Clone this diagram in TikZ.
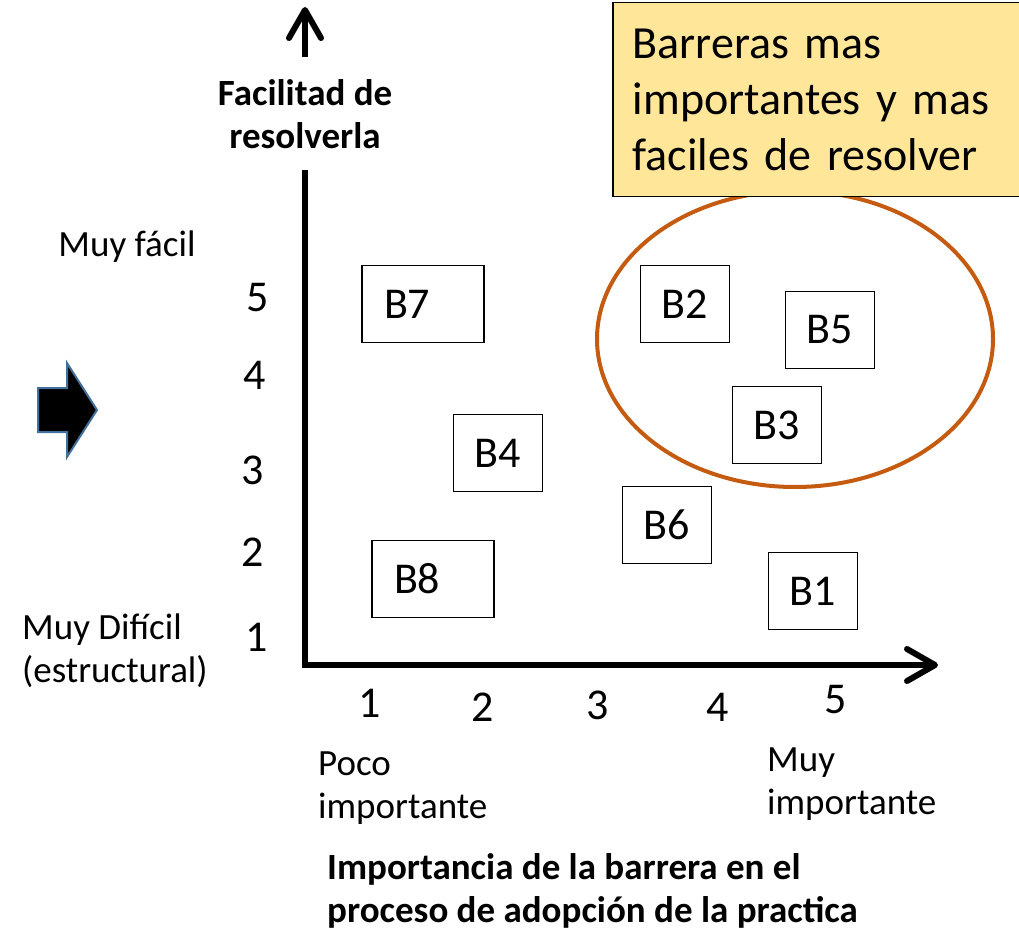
\documentclass[tikz,border=0pt]{standalone}
\usepackage{fontspec}
\setmainfont{Carlito}
\usetikzlibrary{arrows.meta}
\definecolor{notefill}{HTML}{FFE699}
\definecolor{ringcolor}{HTML}{C55A11}
\definecolor{pointeredge}{HTML}{41719C}
\tikzset{
  bignum/.style={font=\fontsize{44}{54}\selectfont, inner sep=0pt},
  smalltext/.style={font=\fontsize{37}{43}\selectfont, inner sep=0pt, align=left},
  axistitle/.style={font=\bfseries\fontsize{37}{43}\selectfont, inner sep=0pt},
  barbox/.style={draw, line width=1.5pt, minimum width=89pt, minimum height=77pt, font=\fontsize{44}{54}\selectfont},
  widebox/.style={barbox, text width=78pt, inner xsep=22pt, align=left, minimum width=122pt},
  axisline/.style={line width=6pt},
  axisarrow/.style={axisline, -{Straight Barb[length=28pt, width=32pt, round]}}
}

\begin{document}
\begin{tikzpicture}[x=1pt,y=-1pt]
\useasboundingbox (0,0) rectangle (1019,933);
\coordinate (yfoot) at (305,57);
\coordinate (ytip) at (305,7);
\coordinate (ytop) at (305,170);
\coordinate (origin) at (305,665);
\coordinate (xtip) at (938,665);
\draw[axisarrow] (yfoot) -- (ytip);
\draw[axisarrow] (ytop) -- (origin) -- (xtip);

\node[axistitle, align=center] (ytitle) at (305,114) {Facilitad de\\resolverla};
\node[axistitle, align=left, anchor=west] (xtitle) at (327,891) {Importancia de la barrera en el\\proceso de adopción de la practica};

\node[smalltext] (easy) at (127,247) {Muy fácil};
\node[smalltext, anchor=west] (hard) at (22,651) {Muy Difícil\\(estructural)};
\node[smalltext, anchor=west] (low) at (318,788) {Poco\\importante};
\node[smalltext, anchor=west] (high) at (767,784) {Muy\\importante};

\node[bignum] (y5) at (258,298) {5};
\node[bignum] (y4) at (255,375) {4};
\node[bignum] (y3) at (253,470) {3};
\node[bignum] (y2) at (253,552) {2};
\node[bignum] (y1) at (257,637) {1};
\node[bignum] (x1) at (370,703) {1};
\node[bignum] (x2) at (483,707) {2};
\node[bignum] (x3) at (598,705) {3};
\node[bignum] (x4) at (718,707) {4};
\node[bignum] (x5) at (836,700) {5};

\node[widebox] (B7) at (423,304) {B7};
\node[widebox] (B8) at (433,579) {B8};
\node[barbox] (B4) at (498,453) {B4};
\node[barbox] (B2) at (685,304) {B2};
\node[barbox] (B5) at (830,330) {B5};
\node[barbox] (B3) at (777,425) {B3};
\node[barbox] (B6) at (667,525) {B6};
\node[barbox] (B1) at (813,591) {B1};

\draw[ringcolor, line width=4pt] (795,339) ellipse [x radius=198pt, y radius=148pt];
\node[draw, line width=1.5pt, fill=notefill, anchor=north west, minimum height=194pt,
  text width=380pt, inner xsep=20pt, align=left, font=\fontsize{46}{56}\selectfont]
  (note) at (612,2) {Barreras mas\\importantes y mas\\faciles de resolver};

\fill[draw=pointeredge, line width=2pt] (38,388) -- (67,388) -- (67,363) -- (97,410)
  -- (67,457) -- (67,432) -- (38,432) -- cycle;
\end{tikzpicture}
\end{document}
